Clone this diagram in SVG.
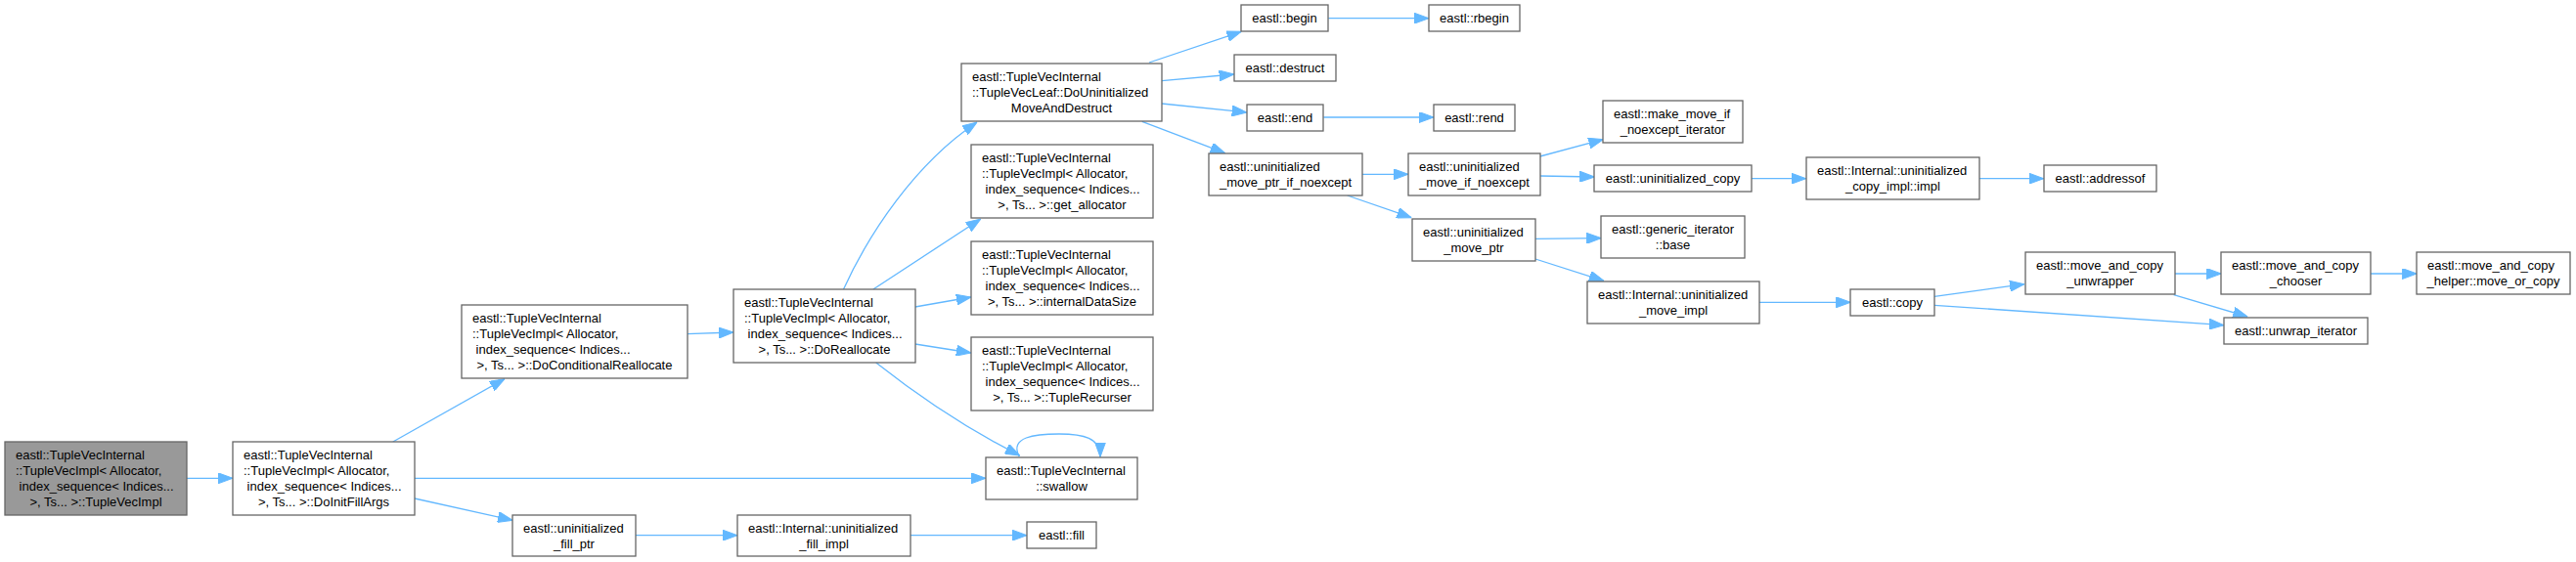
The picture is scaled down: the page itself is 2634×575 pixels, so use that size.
<svg xmlns="http://www.w3.org/2000/svg" width="2634" height="575" viewBox="0 0 2634 575">
<style>
.n rect{fill:#ffffff;stroke:#666666;stroke-width:1.3}
.n.h rect{fill:#999999}
text{font-family:"Liberation Sans",Arial,sans-serif;font-size:13px;fill:#000000}
.c{text-anchor:middle}
.e path{fill:none;stroke:#63b8ff;stroke-width:1.3;marker-end:url(#a)}
</style>
<defs>
<marker id="a" markerWidth="15" markerHeight="11" refX="15" refY="5.5" orient="auto" markerUnits="userSpaceOnUse"><path d="M0,0 L15,5.5 L0,11 z" fill="#63b8ff" stroke="#63b8ff" stroke-width="1"/></marker>
</defs>
<rect width="2634" height="575" fill="#ffffff"/>
<g class="e" id="edges">
<path d="M190.6,489.3 L238,489.3"/>
<path d="M401.8,452 L516,387.7"/>
<path d="M424,489.3 L1008,489.3"/>
<path d="M424,510 L524,532.3"/>
<path d="M650,547.7 L754,547.7"/>
<path d="M702.6,341.7 L750,340"/>
<path d="M931,547.7 L1050,547.7"/>
<path d="M862.5,296 C888,240 935,168 999,125"/>
<path d="M892.9,296 L1002.8,224"/>
<path d="M935.7,314 L992.9,304"/>
<path d="M935.7,352 L992.9,361"/>
<path d="M895.7,371 C935,402 985,437 1042.8,466"/>
<path d="M1042,467 C1032,447 1058,444 1083,444 C1108,444 1125,448 1125,467.5"/>
<path d="M1175,64 L1269.3,32.3"/>
<path d="M1188,82.7 L1261.7,76"/>
<path d="M1188,106 L1274.7,115"/>
<path d="M1167.8,124.3 L1252.7,156.7"/>
<path d="M1358.3,18.7 L1461,18.7"/>
<path d="M1353.3,120 L1466,120"/>
<path d="M1392.3,178.3 L1440,178.3"/>
<path d="M1377.7,200 L1443.3,222.7"/>
<path d="M1574.7,160 L1639.3,142.7"/>
<path d="M1574.7,180 L1630.3,181"/>
<path d="M1570,244.3 L1637.3,243.7"/>
<path d="M1570,265 L1640,287.3"/>
<path d="M1791,182.7 L1846.7,182.7"/>
<path d="M2023.3,182.7 L2089.7,182.7"/>
<path d="M1799,309.3 L1892.3,309.3"/>
<path d="M1978,303.3 L2070,290.7"/>
<path d="M1978,312.3 L2274,332.7"/>
<path d="M2223.7,280 L2271.3,280"/>
<path d="M2424,280 L2471.3,280"/>
<path d="M2222.7,301.7 L2298.3,324"/>
</g>
<g class="n h" id="node1"><rect x="5" y="452" width="186" height="75"/>
<text x="16" y="470">eastl::TupleVecInternal</text><text x="16" y="486">::TupleVecImpl&lt; Allocator,</text><text x="19.6" y="502">index_sequence&lt; Indices...</text><text class="c" x="98" y="518">&gt;, Ts... &gt;::TupleVecImpl</text></g>
<g class="n" id="node2"><rect x="238" y="452" width="186" height="75"/>
<text x="249" y="470">eastl::TupleVecInternal</text><text x="249" y="486">::TupleVecImpl&lt; Allocator,</text><text x="252.6" y="502">index_sequence&lt; Indices...</text><text class="c" x="331" y="518">&gt;, Ts... &gt;::DoInitFillArgs</text></g>
<g class="n" id="node3"><rect x="472" y="312" width="231" height="75"/>
<text x="483" y="330">eastl::TupleVecInternal</text><text x="483" y="346">::TupleVecImpl&lt; Allocator,</text><text x="486.6" y="362">index_sequence&lt; Indices...</text><text class="c" x="587.5" y="378">&gt;, Ts... &gt;::DoConditionalReallocate</text></g>
<g class="n" id="node4"><rect x="524" y="527" width="126" height="42"/>
<text x="535" y="544.5">eastl::uninitialized</text><text class="c" x="587" y="560.5">_fill_ptr</text></g>
<g class="n" id="node5"><rect x="750" y="296" width="186" height="75"/>
<text x="761" y="314">eastl::TupleVecInternal</text><text x="761" y="330">::TupleVecImpl&lt; Allocator,</text><text x="764.6" y="346">index_sequence&lt; Indices...</text><text class="c" x="843" y="362">&gt;, Ts... &gt;::DoReallocate</text></g>
<g class="n" id="node6"><rect x="754" y="527" width="177" height="42"/>
<text x="765" y="544.5">eastl::Internal::uninitialized</text><text class="c" x="842.5" y="560.5">_fill_impl</text></g>
<g class="n" id="node7"><rect x="983" y="65" width="205" height="59"/>
<text x="994" y="83">eastl::TupleVecInternal</text><text x="994" y="99">::TupleVecLeaf::DoUninitialized</text><text class="c" x="1085.5" y="115">MoveAndDestruct</text></g>
<g class="n" id="node8"><rect x="993" y="148" width="186" height="75"/>
<text x="1004" y="166">eastl::TupleVecInternal</text><text x="1004" y="182">::TupleVecImpl&lt; Allocator,</text><text x="1007.6" y="198">index_sequence&lt; Indices...</text><text class="c" x="1086" y="214">&gt;, Ts... &gt;::get_allocator</text></g>
<g class="n" id="node9"><rect x="993" y="247" width="186" height="75"/>
<text x="1004" y="265">eastl::TupleVecInternal</text><text x="1004" y="281">::TupleVecImpl&lt; Allocator,</text><text x="1007.6" y="297">index_sequence&lt; Indices...</text><text class="c" x="1086" y="313">&gt;, Ts... &gt;::internalDataSize</text></g>
<g class="n" id="node10"><rect x="993" y="345" width="186" height="75"/>
<text x="1004" y="363">eastl::TupleVecInternal</text><text x="1004" y="379">::TupleVecImpl&lt; Allocator,</text><text x="1007.6" y="395">index_sequence&lt; Indices...</text><text class="c" x="1086" y="411">&gt;, Ts... &gt;::TupleRecurser</text></g>
<g class="n" id="node11"><rect x="1008" y="468" width="155" height="43"/>
<text x="1019" y="486">eastl::TupleVecInternal</text><text class="c" x="1085.5" y="502">::swallow</text></g>
<g class="n" id="node12"><rect x="1050" y="534" width="71" height="27"/>
<text class="c" x="1085.5" y="552">eastl::fill</text></g>
<g class="n" id="node13"><rect x="1269" y="5" width="89" height="27"/>
<text class="c" x="1313.5" y="23">eastl::begin</text></g>
<g class="n" id="node14"><rect x="1262" y="56" width="104" height="27"/>
<text class="c" x="1314" y="74">eastl::destruct</text></g>
<g class="n" id="node15"><rect x="1275" y="107" width="78" height="27"/>
<text class="c" x="1314" y="125">eastl::end</text></g>
<g class="n" id="node16"><rect x="1236" y="157" width="157" height="43"/>
<text x="1247" y="175">eastl::uninitialized</text><text class="c" x="1314.5" y="191">_move_ptr_if_noexcept</text></g>
<g class="n" id="node17"><rect x="1461" y="5" width="93" height="27"/>
<text class="c" x="1507.5" y="23">eastl::rbegin</text></g>
<g class="n" id="node18"><rect x="1466" y="107" width="83" height="27"/>
<text class="c" x="1507.5" y="125">eastl::rend</text></g>
<g class="n" id="node19"><rect x="1440" y="157" width="135" height="43"/>
<text x="1451" y="175">eastl::uninitialized</text><text class="c" x="1507.5" y="191">_move_if_noexcept</text></g>
<g class="n" id="node20"><rect x="1444" y="224" width="126" height="43"/>
<text x="1455" y="242">eastl::uninitialized</text><text class="c" x="1507" y="258">_move_ptr</text></g>
<g class="n" id="node21"><rect x="1639" y="103" width="143" height="43"/>
<text x="1650" y="121">eastl::make_move_if</text><text class="c" x="1710.5" y="137">_noexcept_iterator</text></g>
<g class="n" id="node22"><rect x="1630" y="169" width="161" height="27"/>
<text class="c" x="1710.5" y="187">eastl::uninitialized_copy</text></g>
<g class="n" id="node23"><rect x="1637" y="221" width="147" height="43"/>
<text x="1648" y="239">eastl::generic_iterator</text><text class="c" x="1710.5" y="255">::base</text></g>
<g class="n" id="node24"><rect x="1623" y="288" width="176" height="43"/>
<text x="1634" y="306">eastl::Internal::uninitialized</text><text class="c" x="1711" y="322">_move_impl</text></g>
<g class="n" id="node25"><rect x="1847" y="161" width="177" height="43"/>
<text x="1858" y="179">eastl::Internal::uninitialized</text><text class="c" x="1935.5" y="195">_copy_impl::impl</text></g>
<g class="n" id="node26"><rect x="1892" y="296" width="86" height="27"/>
<text class="c" x="1935" y="314">eastl::copy</text></g>
<g class="n" id="node27"><rect x="2090" y="169" width="115" height="27"/>
<text class="c" x="2147.5" y="187">eastl::addressof</text></g>
<g class="n" id="node28"><rect x="2071" y="258" width="153" height="43"/>
<text x="2082" y="276">eastl::move_and_copy</text><text class="c" x="2147.5" y="292">_unwrapper</text></g>
<g class="n" id="node29"><rect x="2271" y="258" width="153" height="43"/>
<text x="2282" y="276">eastl::move_and_copy</text><text class="c" x="2347.5" y="292">_chooser</text></g>
<g class="n" id="node30"><rect x="2471" y="258" width="157" height="43"/>
<text x="2482" y="276">eastl::move_and_copy</text><text class="c" x="2549.5" y="292">_helper::move_or_copy</text></g>
<g class="n" id="node31"><rect x="2274" y="325" width="147" height="27"/>
<text class="c" x="2347.5" y="343">eastl::unwrap_iterator</text></g>
</svg>
